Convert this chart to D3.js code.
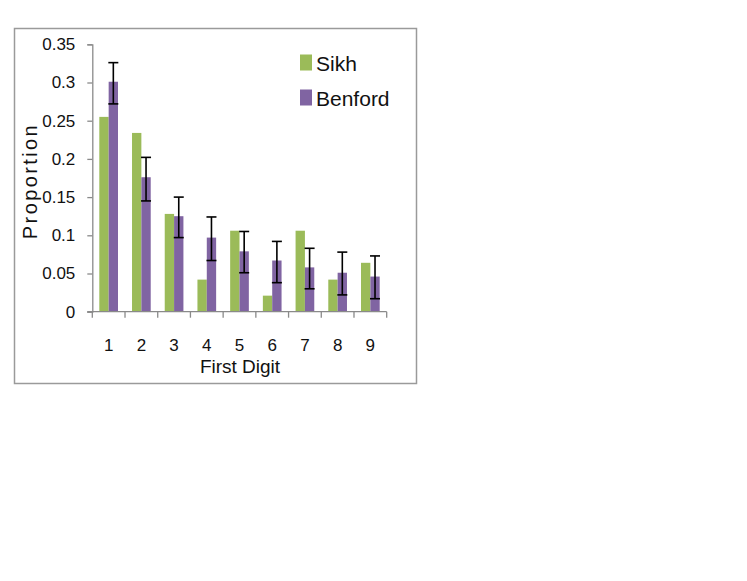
<!DOCTYPE html>
<html>
<head>
<meta charset="utf-8">
<script src="https://cdn.jsdelivr.net/npm/d3@7"></script>
<style>
  html, body { margin: 0; padding: 0; background: #fff; }
  svg { display: block; }
  text { font-family: "Liberation Sans", Arial, sans-serif; fill: #111; }
</style>
</head>
<body>
<svg id="chart" width="747" height="581"></svg>
<script>
// ---- data ----
const digits = ["1", "2", "3", "4", "5", "6", "7", "8", "9"];
const seriesNames = ["Sikh", "Benford"];
const sikh = [0.255, 0.234, 0.128, 0.042, 0.106, 0.021, 0.106, 0.042, 0.064];
const benford = [0.301, 0.176, 0.125, 0.097, 0.079, 0.067, 0.058, 0.051, 0.046];
const benfordHigh = [0.326, 0.202, 0.150, 0.124, 0.105, 0.092, 0.083, 0.078, 0.073];
const benfordLow = [0.272, 0.145, 0.097, 0.067, 0.051, 0.038, 0.030, 0.022, 0.017];
const yTicks = [0, 0.05, 0.1, 0.15, 0.2, 0.25, 0.3, 0.35];
const yTickLabels = ["0", "0.05", "0.1", "0.15", "0.2", "0.25", "0.3", "0.35"];
const colors = ["#9BBB59", "#8064A2"];

const svg = d3.select("#chart");

// outer frame
svg.append("rect")
  .attr("x", 14.5).attr("y", 28.5).attr("width", 402).attr("height", 355)
  .attr("fill", "none").attr("stroke", "#9a9a9a").attr("stroke-width", 1.5);

const x0 = 92.3, x1 = 386.7, yBottom = 311.7, yTop = 44.3;
const x = d3.scaleBand().domain(digits).range([x0, x1]).paddingInner(0).paddingOuter(0);
const y = d3.scaleLinear().domain([0, 0.35]).range([yBottom, yTop]);
const bw = x.bandwidth() / 3.5;

// bars
const g = svg.append("g");
g.selectAll("rect.sikh").data(digits).join("rect")
  .attr("class", "sikh")
  .attr("x", d => x(d) + 0.75 * bw)
  .attr("width", bw)
  .attr("y", (d, i) => y(sikh[i]))
  .attr("height", (d, i) => y(0) - y(sikh[i]))
  .attr("fill", colors[0]);
g.selectAll("rect.ben").data(digits).join("rect")
  .attr("class", "ben")
  .attr("x", d => x(d) + 1.75 * bw)
  .attr("width", bw)
  .attr("y", (d, i) => y(benford[i]))
  .attr("height", (d, i) => y(0) - y(benford[i]))
  .attr("fill", colors[1]);

// error bars
const eb = svg.append("g").attr("stroke", "#000").attr("stroke-width", 1.6);
digits.forEach((d, i) => {
  const cx = x(d) + 2.25 * bw;
  eb.append("line").attr("x1", cx).attr("x2", cx).attr("y1", y(benfordHigh[i])).attr("y2", y(benfordLow[i]));
  eb.append("line").attr("x1", cx - 5).attr("x2", cx + 5).attr("y1", y(benfordHigh[i])).attr("y2", y(benfordHigh[i]));
  eb.append("line").attr("x1", cx - 5).attr("x2", cx + 5).attr("y1", y(benfordLow[i])).attr("y2", y(benfordLow[i]));
});

// y axis
const yAxis = d3.axisLeft(y).tickValues(yTicks).tickSize(5).tickPadding(12)
  .tickFormat((d, i) => yTickLabels[i]);
const ya = svg.append("g").attr("transform", `translate(${x0},0)`).call(yAxis);
ya.select(".domain").attr("stroke", "#8a8a8a").attr("stroke-width", 1.3);
ya.selectAll(".tick line").attr("stroke", "#8a8a8a").attr("stroke-width", 1.3);
ya.selectAll(".tick text").attr("font-size", 17).attr("font-family", "Liberation Sans, Arial, sans-serif").attr("fill", "#111");

// x axis: boundary ticks
const xb = svg.append("g");
xb.append("line").attr("x1", x0 - 5).attr("x2", x1).attr("y1", yBottom).attr("y2", yBottom)
  .attr("stroke", "#8a8a8a").attr("stroke-width", 1.3);
const bounds = digits.map(d => x(d)).concat([x1]);
xb.selectAll("line.bt").data(bounds).join("line").attr("class", "bt")
  .attr("x1", d => d).attr("x2", d => d).attr("y1", yBottom).attr("y2", yBottom + 6)
  .attr("stroke", "#8a8a8a").attr("stroke-width", 1.3);
// x labels
const xAxis = d3.axisBottom(x).tickSize(0).tickPadding(27);
const xa = svg.append("g").attr("transform", `translate(0,${yBottom})`).call(xAxis);
xa.select(".domain").remove();
xa.selectAll(".tick text").attr("font-size", 17).attr("font-family", "Liberation Sans, Arial, sans-serif").attr("fill", "#111");

// axis titles
svg.append("text").attr("x", 240).attr("y", 373).attr("text-anchor", "middle")
  .attr("font-size", 19).text("First Digit");
svg.append("text").attr("transform", "translate(37,181) rotate(-90)").attr("text-anchor", "middle")
  .attr("font-size", 20).attr("letter-spacing", 2.4).text("Proportion");

// legend
const leg = svg.append("g");
seriesNames.forEach((s, i) => {
  leg.append("rect").attr("x", 300).attr("y", 54.5 + i * 35).attr("width", 12).attr("height", 16)
    .attr("fill", colors[i]);
  leg.append("text").attr("x", 316).attr("y", 71 + i * 35).attr("font-size", 21).text(s);
});
</script>
</body>
</html>
